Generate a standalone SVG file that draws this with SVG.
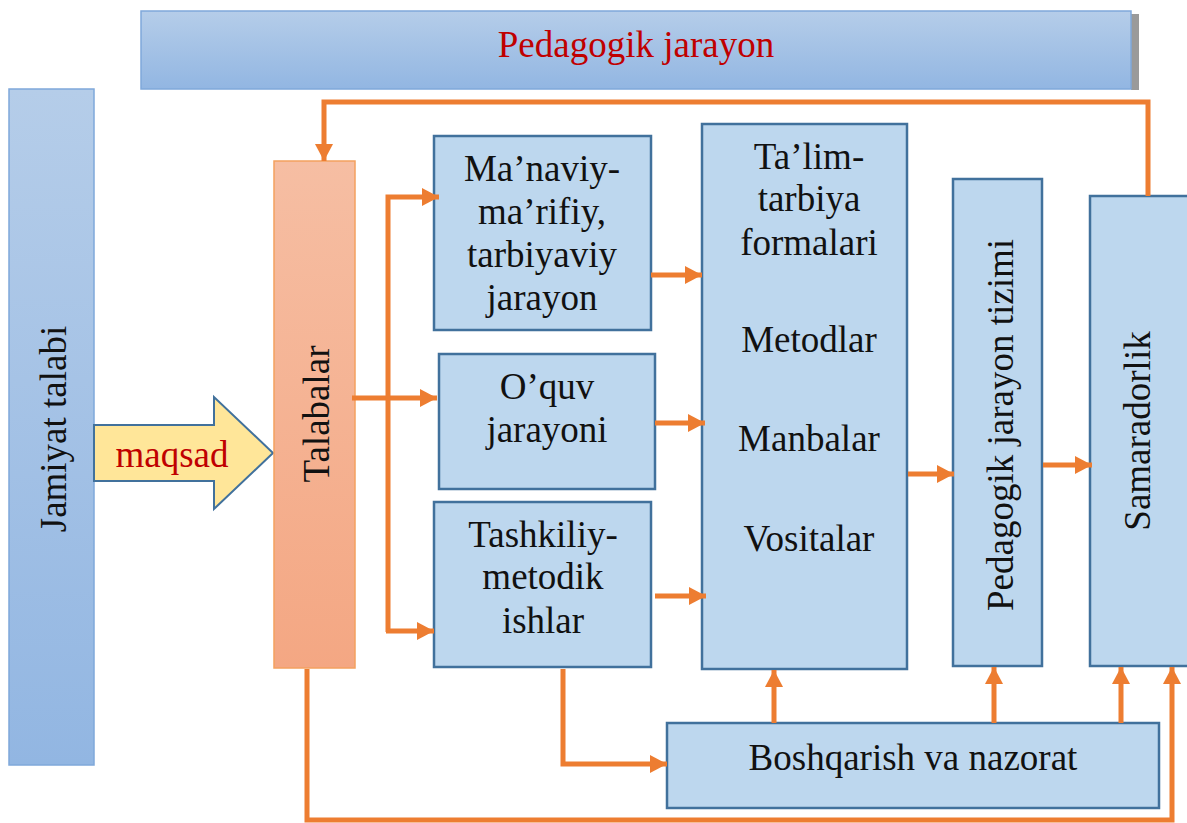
<svg xmlns="http://www.w3.org/2000/svg" width="1187" height="823" viewBox="0 0 1187 823">
<style>
.t{font-family:'Liberation Serif','Times New Roman',Tinos,'DejaVu Serif',serif;font-size:37px;fill:#111;text-anchor:middle}
.red{fill:#c00000}
.box{fill:#bdd7ee;stroke:#41719c;stroke-width:2.5}
.con{fill:none;stroke:#ed7d31;stroke-width:5;stroke-linejoin:miter}
</style>
<defs>
<linearGradient id="gb" x1="0" y1="0" x2="0" y2="1">
<stop offset="0" stop-color="#b5cde9"/>
<stop offset="1" stop-color="#92b6e2"/>
</linearGradient>
<linearGradient id="go" x1="0" y1="0" x2="0" y2="1">
<stop offset="0" stop-color="#f6bea3"/>
<stop offset="1" stop-color="#f4a783"/>
</linearGradient>
<marker id="ah" markerUnits="userSpaceOnUse" markerWidth="18" markerHeight="18" refX="17" refY="9" orient="auto">
<path d="M0,0 L17,9 L0,18 z" fill="#ed7d31"/>
</marker>
</defs>

<g id="header">
<rect x="1131" y="14" width="8" height="76" fill="#9a9a9a"/>
<rect x="141" y="11" width="990" height="78" fill="url(#gb)" stroke="#7fa8da" stroke-width="1.5"/>
<text class="t red" x="636" y="57" font-family="Liberation Serif, serif">Pedagogik jarayon</text>
</g>

<g id="jamiyat">
<rect x="9" y="89" width="85" height="676" fill="url(#gb)" stroke="#7fa8da" stroke-width="1.5"/>
<text class="t" transform="translate(66,429) rotate(-90)">Jamiyat talabi</text>
</g>

<g id="maqsad">
<path d="M94,425 L214,425 L214,397 L273,453 L214,509 L214,481 L94,481 Z" fill="#ffe699" stroke="#41719c" stroke-width="2"/>
<text class="t red" x="172" y="467">maqsad</text>
</g>

<g id="talabalar">
<rect x="274" y="161" width="81" height="507" fill="url(#go)" stroke="#f4a15f" stroke-width="1.5"/>
<text class="t" transform="translate(329,414) rotate(-90)">Talabalar</text>
</g>

<g id="manaviy">
<rect class="box" x="434" y="136" width="217" height="194"/>
<text class="t" x="542" y="181">Ma’naviy-</text>
<text class="t" x="542" y="224">ma’rifiy,</text>
<text class="t" x="542" y="267">tarbiyaviy</text>
<text class="t" x="542" y="310">jarayon</text>
</g>

<g id="oquv">
<rect class="box" x="439" y="354" width="216" height="135"/>
<text class="t" x="547" y="399">O’quv</text>
<text class="t" x="547" y="442">jarayoni</text>
</g>

<g id="tashkiliy">
<rect class="box" x="434" y="502" width="217" height="165"/>
<text class="t" x="543" y="547">Tashkiliy-</text>
<text class="t" x="543" y="589">metodik</text>
<text class="t" x="543" y="633">ishlar</text>
</g>

<g id="talim">
<rect class="box" x="702" y="124" width="205" height="545"/>
<text class="t" x="809" y="169">Ta’lim-</text>
<text class="t" x="809" y="211">tarbiya</text>
<text class="t" x="809" y="255">formalari</text>
<text class="t" x="809" y="352">Metodlar</text>
<text class="t" x="809" y="451">Manbalar</text>
<text class="t" x="809" y="551">Vositalar</text>
</g>

<g id="tizim">
<rect class="box" x="953" y="179" width="89" height="487"/>
<text class="t" transform="translate(1013,425) rotate(-90)">Pedagogik jarayon tizimi</text>
</g>

<g id="samaradorlik">
<rect class="box" x="1090" y="196" width="110" height="470"/>
<text class="t" transform="translate(1150,431) rotate(-90)">Samaradorlik</text>
</g>

<g id="boshqarish">
<rect class="box" x="667" y="723" width="492" height="85"/>
<text class="t" x="913" y="770">Boshqarish va nazorat</text>
</g>

<g id="connectors">
<path class="con" d="M1148,196 L1148,102 L324,102 L324,161" marker-end="url(#ah)"/>
<path class="con" d="M352,398 L437,398" marker-end="url(#ah)"/>
<path class="con" d="M388,632 L388,197 L439,197" marker-end="url(#ah)"/>
<path class="con" d="M386,631 L434,631" marker-end="url(#ah)"/>
<path class="con" d="M651,275 L702,275" marker-end="url(#ah)"/>
<path class="con" d="M655,423 L705,423" marker-end="url(#ah)"/>
<path class="con" d="M655,596 L706,596" marker-end="url(#ah)"/>
<path class="con" d="M908,474 L954,474" marker-end="url(#ah)"/>
<path class="con" d="M1043,465 L1092,465" marker-end="url(#ah)"/>
<path class="con" d="M563,669 L563,764 L667,764" marker-end="url(#ah)"/>
<path class="con" d="M774,723 L774,670" marker-end="url(#ah)"/>
<path class="con" d="M994,723 L994,667" marker-end="url(#ah)"/>
<path class="con" d="M1121,723 L1121,667" marker-end="url(#ah)"/>
<path class="con" d="M307,669 L307,820 L1172,820 L1172,667" marker-end="url(#ah)"/>
</g>
</svg>
